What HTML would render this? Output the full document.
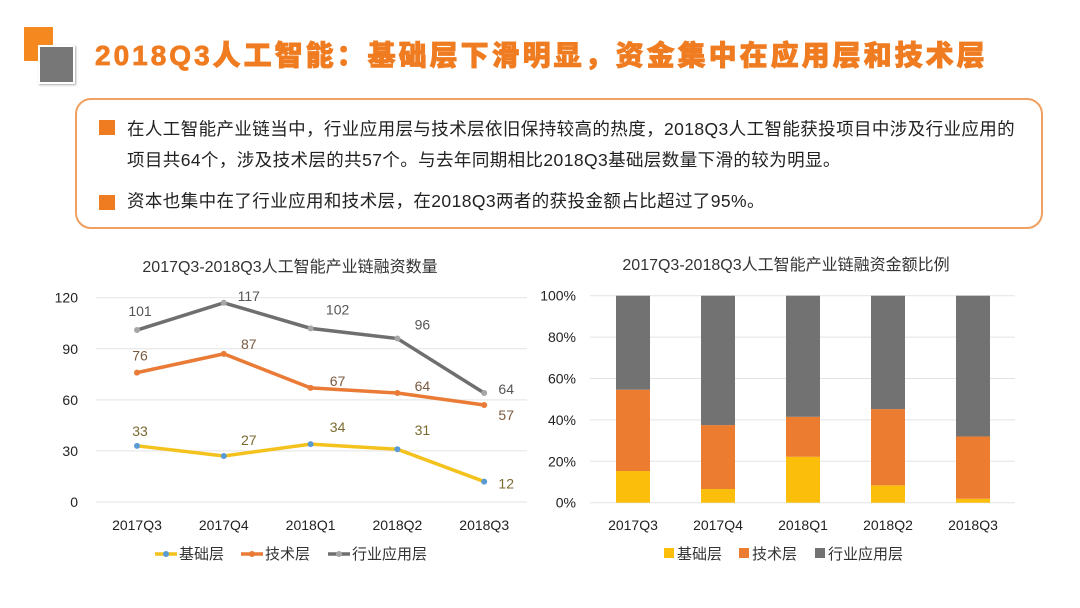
<!DOCTYPE html>
<html><head><meta charset="utf-8"><style>
body{margin:0;width:1080px;height:608px;background:#fff;overflow:hidden;font-family:"Liberation Sans","Noto Sans CJK SC",sans-serif;position:relative}
.abs{position:absolute}
.title{left:95px;top:34px;font-size:28px;font-weight:900;color:#f07c22;letter-spacing:3px;-webkit-text-stroke:0.8px #f07c22;white-space:nowrap}
.box{left:75px;top:98px;width:968px;height:131px;border:2px solid #f0a060;border-radius:16px;box-sizing:border-box}
.bul{width:16px;height:15px;background:#f07c22}
.txt{font-size:17.5px;letter-spacing:0.4px;color:#222;white-space:nowrap;left:127px}
</style></head><body>
<div class="abs" style="left:24px;top:27px;width:29px;height:34px;background:#f5891f"></div>
<div class="abs" style="left:38px;top:45px;width:33px;height:35px;background:#777;border:2px solid #fff;box-shadow:1px 1px 2px #aaa"></div>
<div class="abs title">2018Q3人工智能：基础层下滑明显，资金集中在应用层和技术层</div>
<div class="abs box"></div>
<div class="abs bul" style="left:99px;top:120px"></div>
<div class="abs txt" style="top:114px;line-height:31px">在人工智能产业链当中，行业应用层与技术层依旧保持较高的热度，2018Q3人工智能获投项目中涉及行业应用的<br>项目共64个，涉及技术层的共57个。与去年同期相比2018Q3基础层数量下滑的较为明显。</div>
<div class="abs bul" style="left:99px;top:195px"></div>
<div class="abs txt" style="top:188px;line-height:26px">资本也集中在了行业应用和技术层，在2018Q3两者的获投金额占比超过了95%。</div>
<svg class="abs" style="left:0;top:0" width="1080" height="608" id="chart"></svg>
<script>
const categories=["2017Q3","2017Q4","2018Q1","2018Q2","2018Q3"];
const baseCount=[33,27,34,31,12];
const techCount=[76,87,67,64,57];
const appCount=[101,117,102,96,64];
const countTicks=[0,30,60,90,120];
const basePct=[15.3,6.6,22.2,8.4,1.9];
const techPct=[39.3,30.9,19.3,36.8,30.1];
const appPct=[45.4,62.5,58.5,54.8,68];
const pctTicks=[0,20,40,60,80,100];
const NS="http://www.w3.org/2000/svg";
const svg=document.getElementById('chart');
function mk(tag,attrs,text){const e=document.createElementNS(NS,tag);for(const k in attrs)e.setAttribute(k,attrs[k]);if(text!==undefined)e.textContent=text;svg.appendChild(e);return e;}
const F='"Liberation Sans","Noto Sans CJK SC",sans-serif';
const lx=i=>137+i*86.8, ly=v=>502-v*(204.3/120);
let t=mk('text',{x:290,y:272,'font-size':16,'text-anchor':'middle',fill:'#333','font-family':F},'2017Q3-2018Q3人工智能产业链融资数量');


countTicks.forEach(v=>{let g=mk('line',{x1:96,x2:527,y1:ly(v),y2:ly(v),stroke:'#e3e3e3'});


let l=mk('text',{x:78,y:ly(v)+5,'font-size':14,'text-anchor':'end',fill:'#222','font-family':F},v);

});
categories.forEach((c,i)=>{let l=mk('text',{x:lx(i),y:530,'font-size':14,'text-anchor':'middle',fill:'#222','font-family':F},c);

});
const series=[[baseCount,'#f4c21c','#5b9bd5','#7a6a30','base',[-10,-11,-12,-14,7]],[techCount,'#e97b36','#e97b36','#7a5a40','tech',[-12,-5,-2,-2,15]],[appCount,'#6f6f6f','#a6a6a6','#555','app',[-14,-2,-14,-9,1]]];
const dxs=[3,25,27,25,22];
series.forEach(([d,col,mc,lc,n,dy])=>{
 let p=mk('polyline',{points:d.map((v,i)=>lx(i)+','+ly(v)).join(' '),fill:'none',stroke:col,'stroke-width':3.5});
 
 
 d.forEach((v,i)=>{let c=mk('circle',{cx:lx(i),cy:ly(v),r:3,fill:mc});
 
 
 let lab=mk('text',{x:lx(i)+dxs[i],y:ly(v)+dy[i],'font-size':14,'text-anchor':'middle',fill:lc,'font-family':F},v);
 
 });
});
const leg=[['基础层','#f4c21c','#5b9bd5',155],['技术层','#e97b36','#e97b36',241],['行业应用层','#6f6f6f','#a6a6a6',328]];
leg.forEach(([s,c,m,x])=>{let l=mk('line',{x1:x,x2:x+22,y1:554,y2:554,stroke:c,'stroke-width':3.5});


mk('circle',{cx:x+11,cy:554,r:3,fill:m});
let tt=mk('text',{x:x+24,y:559,'font-size':15,fill:'#333','font-family':F},s);

});
const rx=i=>633+i*85, ry=v=>502.7-v*2.07;
t=mk('text',{x:786,y:270,'font-size':16,'text-anchor':'middle',fill:'#333','font-family':F},'2017Q3-2018Q3人工智能产业链融资金额比例');


pctTicks.forEach(v=>{let g=mk('line',{x1:590,x2:1015,y1:ry(v),y2:ry(v),stroke:'#e3e3e3'});


let l=mk('text',{x:576,y:ry(v)+5,'font-size':14,'text-anchor':'end',fill:'#222','font-family':F},v+'%');

});
categories.forEach((c,i)=>{let l=mk('text',{x:rx(i),y:530,'font-size':14,'text-anchor':'middle',fill:'#222','font-family':F},c);


let acc=0;[[basePct,'#fbbf0b','base'],[techPct,'#ec7c30','tech'],[appPct,'#727272','app']].forEach(([d,col,n])=>{
 let r=mk('rect',{x:rx(i)-17,y:ry(acc+d[i]),width:34,height:ry(acc)-ry(acc+d[i]),fill:col});
 
 
 acc+=d[i];});});
[['基础层','#fbbf0b',664],['技术层','#ec7c30',739],['行业应用层','#727272',815]].forEach(([s,c,x])=>{
let r=mk('rect',{x:x,y:548,width:10,height:10,fill:c});


let tt=mk('text',{x:x+13,y:559,'font-size':15,fill:'#333','font-family':F},s);

});
</script>
</body></html>
